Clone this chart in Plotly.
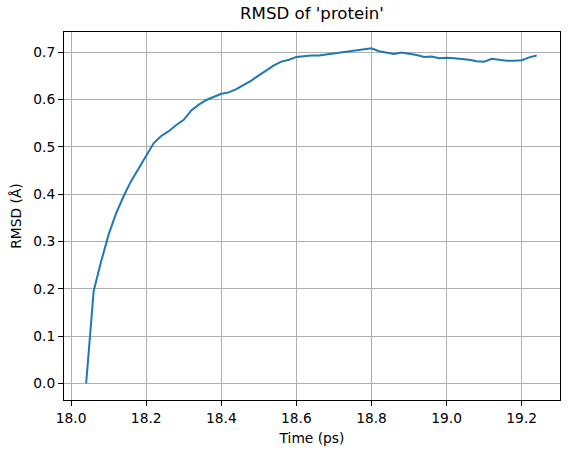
import plotly.graph_objects as go

# time (ps) and RMSD (Angstrom)
time_ps = [18.04, 18.06, 18.08, 18.10, 18.12, 18.14, 18.16, 18.18, 18.20, 18.22,
           18.24, 18.26, 18.28, 18.30, 18.32, 18.34, 18.36, 18.38, 18.40, 18.42,
           18.44, 18.46, 18.48, 18.50, 18.52, 18.54, 18.56, 18.58, 18.60, 18.62,
           18.64, 18.66, 18.68, 18.70, 18.72, 18.74, 18.76, 18.78, 18.80, 18.82,
           18.84, 18.86, 18.88, 18.90, 18.92, 18.94, 18.96, 18.98, 19.00, 19.02,
           19.04, 19.06, 19.08, 19.10, 19.12, 19.14, 19.16, 19.18, 19.20, 19.22,
           19.24]
rmsd = [0.000, 0.195, 0.258, 0.315, 0.360, 0.396, 0.428, 0.455, 0.484, 0.508,
        0.523, 0.533, 0.546, 0.557, 0.577, 0.589, 0.599, 0.606, 0.612, 0.615,
        0.622, 0.631, 0.640, 0.651, 0.661, 0.672, 0.680, 0.684, 0.690, 0.692,
        0.693, 0.693, 0.695, 0.698, 0.699, 0.701, 0.703, 0.705, 0.708, 0.702,
        0.699, 0.696, 0.699, 0.697, 0.694, 0.690, 0.691, 0.687, 0.688, 0.687,
        0.686, 0.684, 0.681, 0.680, 0.686, 0.684, 0.682, 0.682, 0.683, 0.689,
        0.693]

font = "DejaVu Sans"
label_font = {'family': font, 'size': 13.8, 'color': "black"}

fig = go.Figure(go.Scatter(
    x=time_ps, y=rmsd, mode="lines",
    line={'color': "#1f77b4", 'width': 2}))

axis_style = dict(
    showline=True, mirror=True, linecolor="black", linewidth=1,
    ticks="outside", ticklen=5, tickwidth=1, tickcolor="black",
    showgrid=True, gridcolor="#b0b0b0", gridwidth=1,
    zeroline=False, tickformat=".1f", automargin=False,
    tickfont=label_font,
)

fig.update_layout(
    width=569, height=454,
    margin={'l': 64, 'r': 9, 't': 32, 'b': 54},
    paper_bgcolor="white", plot_bgcolor="white",
    showlegend=False,
    title={'text': "RMSD of 'protein'", 'x': 0.5, 'xanchor': "center",
           'xref': "paper", 'yref': "container", 'y': 1 - 13 / 454,
           'yanchor': "middle",
           'font': {'family': font, 'size': 16.6, 'color': "black"}},
    xaxis=dict(axis_style, range=[17.981, 19.302], dtick=0.2, tick0=18.0,
               title={'text': "Time (ps)", 'standoff': 8, 'font': label_font}),
    yaxis=dict(axis_style, range=[-0.035, 0.7426], dtick=0.1, tick0=0,
               title={'text': "RMSD (Å)", 'standoff': 8, 'font': label_font}),
)

# drop the browser's default body margin so the figure sits at the page corner
fig.write_html("out.html", config={'displayModeBar': False},
               post_script="document.body.style.margin = '0';")
